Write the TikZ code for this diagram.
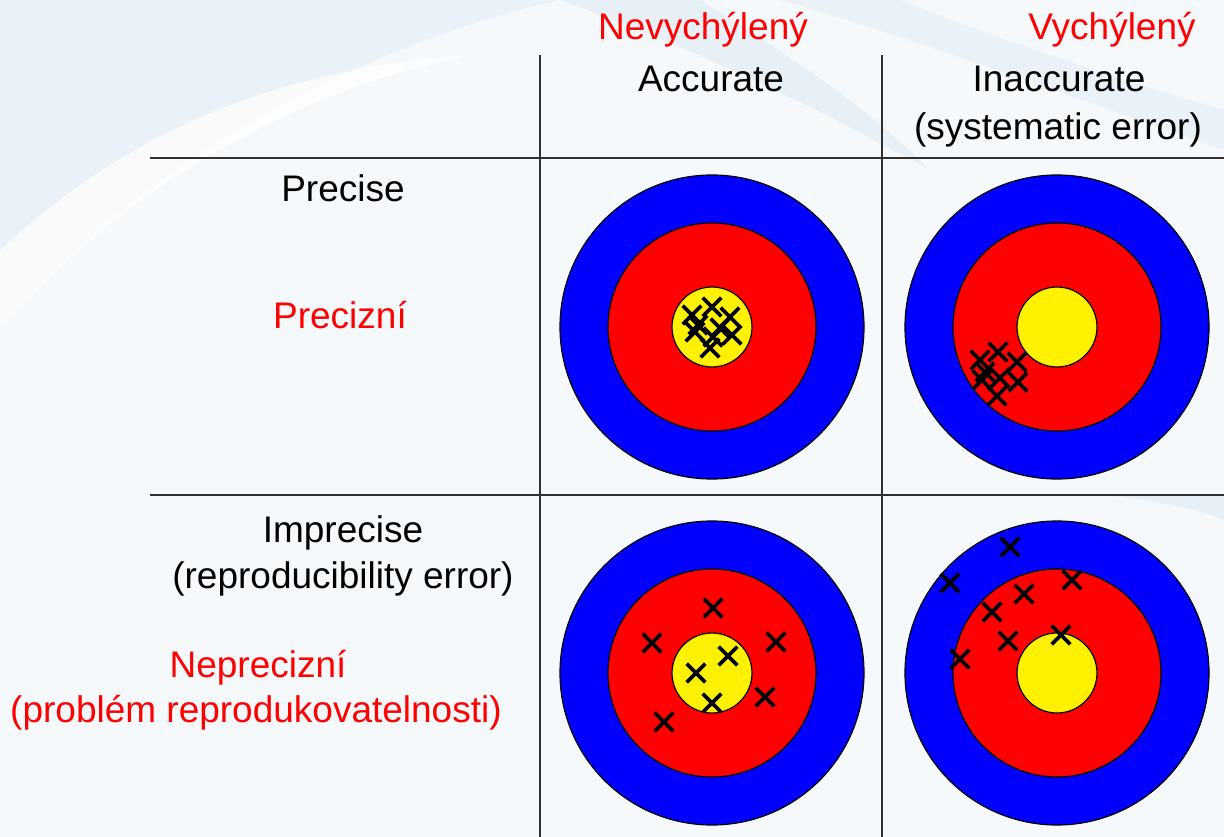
\documentclass[tikz,border=0pt]{standalone}
\usepackage{fontspec}
\setmainfont{Liberation Sans}
\usetikzlibrary{shapes.misc}
\definecolor{bgcol}{HTML}{F6F9FC}
\definecolor{swoosh}{HTML}{D6E4F2}
\definecolor{gridcol}{HTML}{303030}
\begin{document}
\begin{tikzpicture}[x=1pt,y=-1pt,
  lbl/.style={anchor=base, font=\fontsize{37}{40}\selectfont, inner sep=0pt, text=black},
  redlbl/.style={lbl, text=red},
  ring/.style={circle, draw=black, line width=1.2pt, inner sep=0pt},
  shot/.style={cross out, draw=black, line width=3.6pt, minimum size=15pt, inner sep=0pt},
  gridline/.style={draw=gridcol, line width=1.2pt}
]
\useasboundingbox (0,0) rectangle (1224,837);
% background
\fill[bgcol] (0,0) rectangle (1224,837);
\fill[swoosh, opacity=0.35] (0,0) -- (560,0) .. controls (380,40) and (150,150) .. (0,330) -- cycle;
\fill[white, opacity=0.7] (0,250) .. controls (120,140) and (260,70) .. (470,55) .. controls (300,90) and (130,180) .. (0,330) -- cycle;
\fill[swoosh, opacity=0.45] (560,0) -- (700,0) .. controls (780,50) and (860,100) .. (930,170) .. controls (820,110) and (700,50) .. (560,0) -- cycle;
\fill[swoosh, opacity=0.35] (780,0) -- (900,0) .. controls (1000,40) and (1120,80) .. (1224,110) -- (1224,150) .. controls (1080,100) and (920,40) .. (780,0) -- cycle;
\fill[swoosh, opacity=0.45] (1100,495) .. controls (1160,500) and (1200,510) .. (1224,520) -- (1224,495) -- cycle;

% grid
\coordinate (v1t) at (540,55);
\coordinate (v1b) at (540,837);
\coordinate (v2t) at (882,55);
\coordinate (v2b) at (882,837);
\coordinate (h1l) at (150,158);
\coordinate (h1r) at (1224,158);
\coordinate (h2l) at (150,495);
\coordinate (h2r) at (1224,495);
\draw[gridline] (v1t) -- (v1b);
\draw[gridline] (v2t) -- (v2b);
\draw[gridline, line width=2pt] (h1l) -- (h1r);
\draw[gridline, line width=1.6pt] (h2l) -- (h2r);

% labels
\node[redlbl] (nevych) at (703,40) {Nevychýlený};
\node[redlbl] (vych) at (1112,40) {Vychýlený};
\node[lbl] (acc) at (711,92) {Accurate};
\node[lbl] (inacc) at (1059,92) {Inaccurate};
\node[lbl] (syserr) at (1058,140) {(systematic error)};
\node[lbl] (prec) at (343,202) {Precise};
\node[redlbl] (precc) at (340,328) {Precizní};
\node[lbl] (imprec) at (343,542) {Imprecise};
\node[lbl] (reperr) at (343,588) {(reproducibility error)};
\node[redlbl] (neprec) at (258,677) {Neprecizní};
\node[redlbl] (problem) at (256,722) {(problém reprodukovatelnosti)};

% targets
\foreach \n/\cx/\cy in {a/712/327, b/1057/327, c/712/673, d/1057/673}{
  \node[ring, fill=blue, minimum size=304pt] (\n out) at (\cx,\cy) {};
  \node[ring, fill=red, minimum size=208pt] (\n mid) at (\cx,\cy) {};
  \node[ring, fill=yellow, minimum size=80pt] (\n in) at (\cx,\cy) {};
}

% shots: accurate & precise
\foreach \i/\x/\y in {1/712/307, 2/692/315, 3/730/317, 4/698/325, 5/695/332, 6/720/328, 7/732/335, 8/713/337, 9/710/348}
  \node[shot] (sa\i) at (\x,\y) {};
% shots: inaccurate & precise
\foreach \i/\x/\y in {1/998/352, 2/980/360, 3/1017/362, 4/985/372, 5/982/380, 6/1000/378, 7/1018/382, 8/997/396}
  \node[shot] (sb\i) at (\x,\y) {};
% shots: accurate & imprecise
\foreach \i/\x/\y in {1/713/608, 2/652/643, 3/776/642, 4/728/656, 5/696/673, 6/765/697, 7/712/703, 8/664/722}
  \node[shot] (sc\i) at (\x,\y) {};
% shots: inaccurate & imprecise
\foreach \i/\x/\y in {1/1010/547, 2/950/583, 3/1072/580, 4/1024/594, 5/992/612, 6/1008/641, 7/1061/635, 8/960/659}
  \node[shot] (sd\i) at (\x,\y) {};
\end{tikzpicture}
\end{document}
